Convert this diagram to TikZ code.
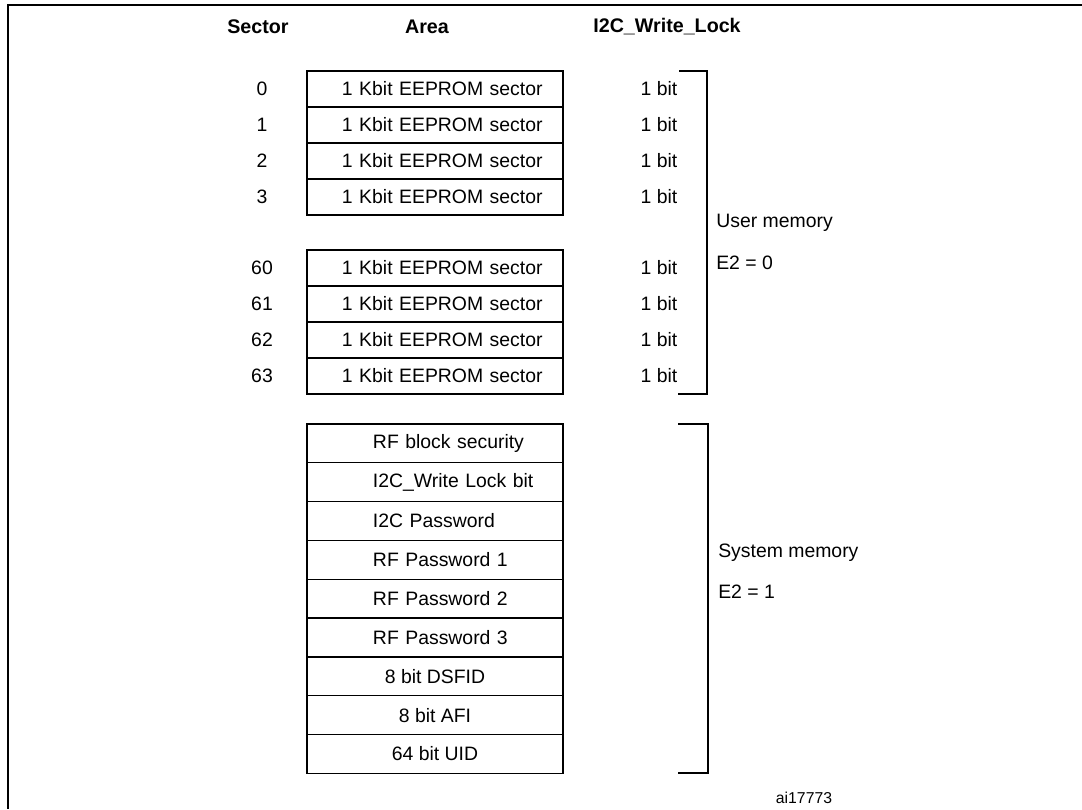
\documentclass[tikz,border=0pt]{standalone}
\usepackage{fontspec}
\setmainfont{Liberation Sans}
\usetikzlibrary{positioning}

\begin{document}
\begin{tikzpicture}[
  x=0.025cm, y=-0.025cm,
  node distance=0pt,
  every node/.style={font=\fontsize{13.8}{16}\selectfont, inner sep=0pt},
  head/.style={font=\fontsize{14}{16}\selectfont\bfseries},
  eebox/.style={draw, line width=0.9pt, outer sep=0pt, minimum width=6.4cm, minimum height=0.9cm, text width=6.4cm, align=left, execute at begin node={\hspace*{0.875cm}}},
  sysbox/.style={draw, line width=0.9pt, outer sep=0pt, minimum width=6.4cm, minimum height=0.97cm, text width=6.4cm, align=left, execute at begin node={\hspace*{1.65cm}}},
  sysmid/.style={draw, line width=0.9pt, outer sep=0pt, minimum width=6.4cm, minimum height=0.97cm, align=center},
  bracket/.style={line width=1.5pt}
]
\useasboundingbox (0,0) rectangle (1082,809);

% frame
\draw[line width=1.8pt] (1082,5) -| (8,809);

% column heads
\node[head] (sechead) at (258,27) {Sector};
\node[head] (areahead) at (427,27) {Area};
\node[head] (lockhead) at (667,27) {I2C\_Write\_Lock};

\coordinate (numcol) at (262,0);
\coordinate (bitcol) at (659,0);

% user memory
\node[eebox] (ee0) at (435,89) {1 Kbit EEPROM sector};
\node[eebox, below=of ee0] (ee1) {1 Kbit EEPROM sector};
\node[eebox, below=of ee1] (ee2) {1 Kbit EEPROM sector};
\node[eebox, below=of ee2] (ee3) {1 Kbit EEPROM sector};
\node[eebox] (ee60) at (435,268) {1 Kbit EEPROM sector};
\node[eebox, below=of ee60] (ee61) {1 Kbit EEPROM sector};
\node[eebox, below=of ee61] (ee62) {1 Kbit EEPROM sector};
\node[eebox, below=of ee62] (ee63) {1 Kbit EEPROM sector};

\node (n0) at (ee0 -| numcol) {0};
\node (n1) at (ee1 -| numcol) {1};
\node (n2) at (ee2 -| numcol) {2};
\node (n3) at (ee3 -| numcol) {3};
\node (n60) at (ee60 -| numcol) {60};
\node (n61) at (ee61 -| numcol) {61};
\node (n62) at (ee62 -| numcol) {62};
\node (n63) at (ee63 -| numcol) {63};

\node (b0) at (ee0 -| bitcol) {1 bit};
\node (b1) at (ee1 -| bitcol) {1 bit};
\node (b2) at (ee2 -| bitcol) {1 bit};
\node (b3) at (ee3 -| bitcol) {1 bit};
\node (b60) at (ee60 -| bitcol) {1 bit};
\node (b61) at (ee61 -| bitcol) {1 bit};
\node (b62) at (ee62 -| bitcol) {1 bit};
\node (b63) at (ee63 -| bitcol) {1 bit};

\draw[bracket] ([xshift=2.9cm]ee0.north east) -- ++(28,0) |- ([xshift=2.875cm]ee63.south east);
\node[anchor=west] (usermem) at (716,223) {User memory};
\node[anchor=west] (usere2) at (716,263) {E2 = 0};

% system memory
\node[sysbox, anchor=north] (rfsec) at (435,424) {RF block security};
\node[sysbox, below=of rfsec] (lockbit) {I2C\_Write Lock bit};
\node[sysbox, below=of lockbit] (i2cpw) {I2C Password};
\node[sysbox, below=of i2cpw] (rfpw1) {RF Password 1};
\node[sysbox, below=of rfpw1] (rfpw2) {RF Password 2};
\node[sysbox, below=of rfpw2] (rfpw3) {RF Password 3};
\node[sysmid, below=of rfpw3] (dsfid) {8 bit DSFID};
\node[sysmid, below=of dsfid] (afi) {8 bit AFI};
\node[sysmid, below=of afi] (uid) {64 bit UID};

\draw[bracket] ([xshift=2.875cm]rfsec.north east) -- ++(30,0) |- ([xshift=2.875cm]uid.south east);
\node[anchor=west] (sysmem) at (718,553) {System memory};
\node[anchor=west] (syse2) at (718,592) {E2 = 1};

\node[font=\fontsize{11.2}{13}\selectfont] (figid) at (804,798) {ai17773};

\end{tikzpicture}
\end{document}
